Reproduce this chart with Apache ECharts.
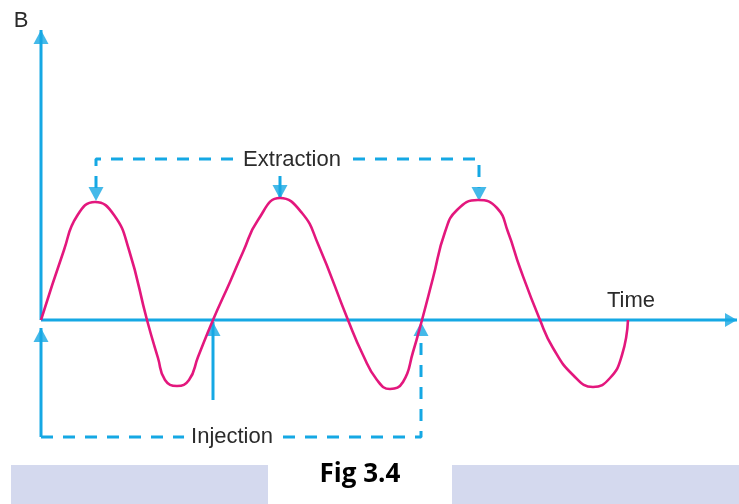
<!DOCTYPE html>
<html><head><meta charset="utf-8">
<script src="https://cdn.jsdelivr.net/npm/echarts@6/dist/echarts.min.js"></script>
<style>html,body{margin:0;padding:0;background:#fff}#c{width:739px;height:504px}</style>
</head><body><div id="c"></div>
<script>
// Magnetic field B versus time (schematic units)
const waveTime = [0,23,36,54,73,88,106,
  117,124,136,148,157,172,
  189,202,217,239,261,277,307,
  322,336,349,362,372,381,
  392,404,416,437,456,467,479,499,
  512,532,552,569,581,587];
const waveB = [0,70,104,118,105,70,0,
  -38,-60,-66,-60,-37,0,
  38,68,100,122,107,76,0,
  -35,-60,-69,-62,-32,0,
  42,88,110,120,112,88,52,0,
  -28,-55,-67,-58,-35,0];

const axisB = [[0,0],[0,290]];
const axisTime = [[0,0],[696,0]];
const extractionPath = [[55,132],[55,161],[438,161],[438,132]];
const extractionMid = [[239,144],[239,121]];
const injectionPath = [[0,-117],[380,-117],[380,-13]];
const injectionLeft = [[0,-117],[0,-8]];
const injectionMid = [[172,-80],[172,-2]];
const arrowsUp = [[0,290],[0,-8],[172,-2],[380,-2]];
const arrowsDown = [[55,119],[239,121],[438,119]];
const arrowsRight = [[696,0]];

const labels = { b: 'B', time: 'Time', extraction: 'Extraction', injection: 'Injection', fig: 'Fig 3.4' };

const CYAN = '#15a8e4', PINK = '#e3177d', TXT = '#2b2b2b';
const wave = waveTime.map((t, i) => [t, waveB[i]]);

function seg(data, dashed) {
  return { type: 'line', data, showSymbol: false, silent: true, z: 2,
    lineStyle: { color: CYAN, width: 3, type: dashed ? [12, 10] : 'solid', cap: 'butt' } };
}
function heads(data, symbol, size, offset) {
  return { type: 'scatter', data, symbol, symbolSize: size, symbolOffset: offset, silent: true, z: 3,
    itemStyle: { color: CYAN } };
}
const chart = echarts.init(document.getElementById('c'), null, { renderer: 'canvas' });
const textStyle = (t, x, y, extra) => Object.assign({ type: 'text', x, y, z: 10,
  style: Object.assign({ text: t, font: '22px "Liberation Sans", Arial, sans-serif', fill: TXT,
    align: 'center', verticalAlign: 'middle' }, extra || {}) });
chart.setOption({
  animation: false,
  grid: { left: 0, right: 0, top: 0, bottom: 0 },
  xAxis: { type: 'value', min: -41, max: 698, show: false },
  yAxis: { type: 'value', min: -184, max: 320, show: false },
  series: [
    seg(axisB, false), seg(axisTime, false),
    seg(extractionPath, true), seg(extractionMid, false),
    seg(injectionPath, true), seg(injectionLeft, false), seg(injectionMid, false),
    heads(arrowsUp, 'triangle', [15, 14], [0, '50%']),
    heads(arrowsDown, 'path://M0,0L10,0L5,10Z', [15, 14], [0, '-50%']),
    heads(arrowsRight, 'path://M0,0L10,5L0,10Z', [12, 14], ['-50%', 0]),
    { type: 'line', data: wave, smooth: 0.5, showSymbol: false, silent: true, z: 5,
      lineStyle: { color: PINK, width: 2.6 } }
  ],
  graphic: [
    { type: 'rect', shape: { x: 11, y: 465, width: 257, height: 39 }, style: { fill: '#d4d9ee' } },
    { type: 'rect', shape: { x: 452, y: 465, width: 287, height: 39 }, style: { fill: '#d4d9ee' } },
    textStyle(labels.b, 21, 21),
    textStyle(labels.time, 631, 301),
    textStyle(labels.extraction, 292, 160, { backgroundColor: '#fff', padding: [2, 6] }),
    textStyle(labels.injection, 232, 437, { backgroundColor: '#fff', padding: [2, 7] }),
    textStyle(labels.fig, 360, 475, { font: 'bold 26px "Open Sans", sans-serif', fill: '#000' })
  ]
});
</script></body></html>
